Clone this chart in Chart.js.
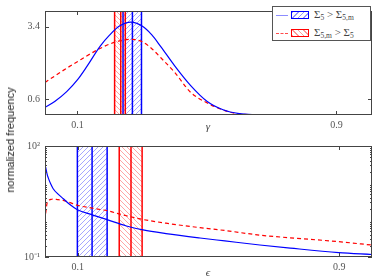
<!DOCTYPE html>
<html>
<head>
<meta charset="utf-8">
<script src="https://cdn.jsdelivr.net/npm/chart.js@4.4.1/dist/chart.umd.min.js"></script>
<style>
  body { margin: 0; background: #fff; width: 374px; height: 280px; position: relative; overflow: hidden; }
  canvas { position: absolute; left: 0; }
  #topChart { top: 0; }
  #botChart { top: 135px; }
  .xlab { position: absolute; font-family: "Liberation Serif", serif; font-style: italic; font-size: 11px; color: #444; transform: translate(-50%, -50%); }
  #ylab { position: absolute; left: 10px; top: 140px; transform: translate(-50%, -50%) rotate(-90deg);
          font-family: "Liberation Sans", sans-serif; font-size: 11px; color: #222; white-space: nowrap; }
  #legend { position: absolute; left: 272px; top: 6px; width: 97px; height: 33px; border: 1.5px solid #555; background: #fff; }
  .row { position: absolute; left: 0; width: 97px; height: 12px; }
  .ln { position: absolute; left: 3px; top: 6px; width: 12px; height: 0; }
  .box { position: absolute; left: 18px; top: 2px; width: 16px; height: 6px; border: 1.3px solid; }
  .txt { position: absolute; left: 41px; top: -1px; font-family: "Liberation Serif", serif; font-size: 11px; line-height: 13px; color: #444; white-space: nowrap; }
  .txt sub { font-size: 7.5px; vertical-align: -2px; line-height: 0; }
</style>
</head>
<body>
<canvas id="topChart" width="374" height="135"></canvas>
<canvas id="botChart" width="374" height="145"></canvas>
<div class="xlab" style="left:208px; top:126px;">γ</div>
<div class="xlab" style="left:208px; top:272px;">ϵ</div>
<div id="legend">
  <div class="row" style="top:2px;">
    <div class="ln" style="border-top:1.3px solid rgba(0,0,255,0.45);"></div>
    <div class="box" style="border-color:#0000ff; background:repeating-linear-gradient(135deg, rgba(0,0,255,0.4) 0 1px, transparent 1px 4px);"></div>
    <div class="txt">Σ<sub>5</sub> &gt; Σ<sub>5,m</sub></div>
  </div>
  <div class="row" style="top:20px;">
    <div class="ln" style="border-top:1.3px dashed rgba(255,0,0,0.7);"></div>
    <div class="box" style="border-color:#ff0000; background:repeating-linear-gradient(45deg, rgba(255,0,0,0.4) 0 1px, transparent 1px 4px);"></div>
    <div class="txt">Σ<sub>5,m</sub> &gt; Σ<sub>5</sub></div>
  </div>
</div>
<div id="ylab">normalized frequency</div>
<script>
// top panel: gamma distribution
const gammaX    = [0, 0.03, 0.067, 0.1, 0.13, 0.17, 0.2, 0.23, 0.265, 0.3, 0.33, 0.357, 0.4, 0.45, 0.5, 0.55, 0.6, 0.65, 0.7, 0.8, 0.9, 1.0];
const gammaBlue = [0.29, 0.52, 0.90, 1.35, 1.88, 2.64, 3.08, 3.42, 3.57, 3.42, 3.08, 2.64, 1.90, 1.13, 0.53, 0.20, 0.05, 0.01, 0, 0, 0, 0];
const gammaRed  = [1.25, 1.50, 1.80, 2.05, 2.28, 2.56, 2.73, 2.85, 2.91, 2.82, 2.55, 2.21, 1.65, 0.87, 0.47, 0.19, 0.04, 0.01, 0, 0, 0, 0];
const gammaBandBlue = [0.241, 0.270, 0.298];
const gammaBandRed  = [0.215, 0.234, 0.248];
const gammaXTicks = [0.1, 0.9];
const gammaYTicks = [0.6, 3.4];

// bottom panel: epsilon distribution (log y)
const epsX    = [0.002, 0.006, 0.01, 0.018, 0.025, 0.04, 0.056, 0.075, 0.099, 0.144, 0.19, 0.249, 0.3, 0.37, 0.474, 0.55, 0.657, 0.75, 0.898, 1.0];
const epsBlue = [26.7, 18, 13.8, 9.2, 7.0, 5.0, 3.75, 2.65, 1.9, 1.38, 1.02, 0.69, 0.54, 0.43, 0.326, 0.272, 0.211, 0.174, 0.132, 0.117];
const epsRed  = [1.5, 2.75, 3.3, 3.6, 3.7, 3.55, 3.4, 3.0, 2.5, 2.1, 1.78, 1.3, 1.03, 0.82, 0.62, 0.52, 0.39, 0.33, 0.26, 0.21];
const epsBandBlue = [0.099, 0.144, 0.190];
const epsBandRed  = [0.227, 0.263, 0.297];
const epsXTicks = [0.1, 0.9];
const epsYTicks = [0.1, 100];

const BLUE = '#0000ff';
const RED = '#ff0000';
const tickFont = { family: 'Liberation Serif', size: 10 };

function hatch(ctx, color, dir) {
    const c = document.createElement('canvas');
    c.width = c.height = 5;
    const g = c.getContext('2d');
    g.strokeStyle = color;
    g.lineWidth = 1;
    g.beginPath();
    if (dir === '/') {
        g.moveTo(0, 5); g.lineTo(5, 0);
        g.moveTo(-1, 1); g.lineTo(1, -1);
        g.moveTo(4, 6); g.lineTo(6, 4);
    } else {
        g.moveTo(0, 0); g.lineTo(5, 5);
        g.moveTo(4, -1); g.lineTo(6, 1);
        g.moveTo(-1, 4); g.lineTo(1, 6);
    }
    g.stroke();
    return ctx.createPattern(c, 'repeat');
}

// hatched bands with edge / middle lines
const bandPlugin = {
    id: 'bands',
    beforeDatasetsDraw(chart, args, opts) {
        const { ctx, chartArea: a, scales: { x } } = chart;
        ctx.save();
        ctx.beginPath();
        ctx.rect(a.left, a.top, a.width, a.height);
        ctx.clip();
        opts.list.forEach(b => {
            const p = b.vals.map(v => x.getPixelForValue(v));
            ctx.fillStyle = hatch(ctx, b.hatch, b.dir);
            ctx.fillRect(p[0], a.top, p[2] - p[0], a.height);
            ctx.strokeStyle = b.color;
            ctx.lineWidth = 1.5;
            p.forEach(px => {
                ctx.beginPath();
                ctx.moveTo(px, a.top);
                ctx.lineTo(px, a.bottom);
                ctx.stroke();
            });
        });
        ctx.restore();
    }
};

// matplotlib-like frame with inward ticks
const framePlugin = {
    id: 'frame',
    afterDraw(chart, args, opts) {
        const { ctx, chartArea: a, scales: { x, y } } = chart;
        ctx.save();
        ctx.strokeStyle = '#444';
        ctx.lineWidth = 1;
        ctx.strokeRect(a.left + 0.5, a.top + 0.5, a.width - 1, a.height - 1);
        ctx.beginPath();
        x.ticks.forEach(t => {
            const px = Math.round(x.getPixelForValue(t.value)) + 0.5;
            ctx.moveTo(px, a.bottom); ctx.lineTo(px, a.bottom - 4);
            ctx.moveTo(px, a.top); ctx.lineTo(px, a.top + 4);
        });
        y.ticks.forEach(t => {
            const py = Math.round(y.getPixelForValue(t.value)) + 0.5;
            ctx.moveTo(a.left, py); ctx.lineTo(a.left + 4, py);
            ctx.moveTo(a.right, py); ctx.lineTo(a.right - 4, py);
        });
        (opts.minor || []).forEach(v => {
            const py = Math.round(y.getPixelForValue(v)) + 0.5;
            ctx.moveTo(a.left, py); ctx.lineTo(a.left + 2, py);
            ctx.moveTo(a.right, py); ctx.lineTo(a.right - 2, py);
        });
        ctx.stroke();
        ctx.restore();
    }
};

function line(xs, ys, color, dashed) {
    return {
        data: xs.map((x, i) => ({ x: x, y: ys[i] })),
        borderColor: color,
        borderWidth: 1.2,
        borderDash: dashed ? [4, 3] : [],
        pointRadius: 0,
        fill: false,
        cubicInterpolationMode: 'monotone'
    };
}

function xScale(max, ticks, h) {
    return {
        type: 'linear', min: 0, max: max,
        afterBuildTicks: s => { s.ticks = ticks.map(v => ({ value: v })); },
        afterFit: s => { s.height = h; },
        grid: { display: false, drawTicks: false },
        border: { display: false },
        ticks: { padding: 4, font: tickFont, color: '#555', maxRotation: 0, callback: v => String(v) }
    };
}

function baseOptions(scales, bands, minor, pad) {
    return {
        responsive: false,
        animation: false,
        devicePixelRatio: 1,
        layout: { padding: pad },
        scales: scales,
        plugins: {
            legend: { display: false },
            tooltip: { enabled: false },
            bands: { list: bands },
            frame: { minor: minor }
        }
    };
}

// top chart
new Chart(document.getElementById('topChart').getContext('2d'), {
    type: 'line',
    data: { datasets: [line(gammaX, gammaBlue, BLUE, false), line(gammaX, gammaRed, RED, true)] },
    options: baseOptions({
        x: xScale(1.01, gammaXTicks, 20),
        y: {
            type: 'linear', min: 0, max: 4,
            afterBuildTicks: s => { s.ticks = gammaYTicks.map(v => ({ value: v })); },
            afterFit: s => { s.width = 45; },
            grid: { display: false, drawTicks: false },
            border: { display: false },
            ticks: { padding: 5, font: tickFont, color: '#555', callback: v => String(v) }
        }
    }, [
        { vals: gammaBandBlue, color: BLUE, hatch: 'rgba(0,0,255,0.35)', dir: '/' },
        { vals: gammaBandRed, color: RED, hatch: 'rgba(255,0,0,0.35)', dir: '\\' }
    ], [], { top: 2, right: 2, left: 0, bottom: 0 }),
    plugins: [bandPlugin, framePlugin]
});

// minor log ticks
const minorTicks = [];
[0.1, 1, 10].forEach(d => { for (let k = 2; k <= 9; k++) minorTicks.push(d * k); });

// bottom chart
new Chart(document.getElementById('botChart').getContext('2d'), {
    type: 'line',
    data: { datasets: [line(epsX, epsBlue, BLUE, false), line(epsX, epsRed, RED, true)] },
    options: baseOptions({
        x: xScale(1.0, epsXTicks, 23),
        y: {
            type: 'logarithmic', min: 0.1, max: 100,
            afterBuildTicks: s => { s.ticks = epsYTicks.map(v => ({ value: v })); },
            afterFit: s => { s.width = 45; },
            grid: { display: false, drawTicks: false },
            border: { display: false },
            ticks: { padding: 5, font: tickFont, color: '#555', callback: v => (v >= 1 ? '10²' : '10⁻¹') }
        }
    }, [
        { vals: epsBandBlue, color: BLUE, hatch: 'rgba(0,0,255,0.35)', dir: '/' },
        { vals: epsBandRed, color: RED, hatch: 'rgba(255,0,0,0.35)', dir: '\\' }
    ], minorTicks, { top: 7, right: 2, left: 0, bottom: 0 }),
    plugins: [bandPlugin, framePlugin]
});
</script>
</body>
</html>
